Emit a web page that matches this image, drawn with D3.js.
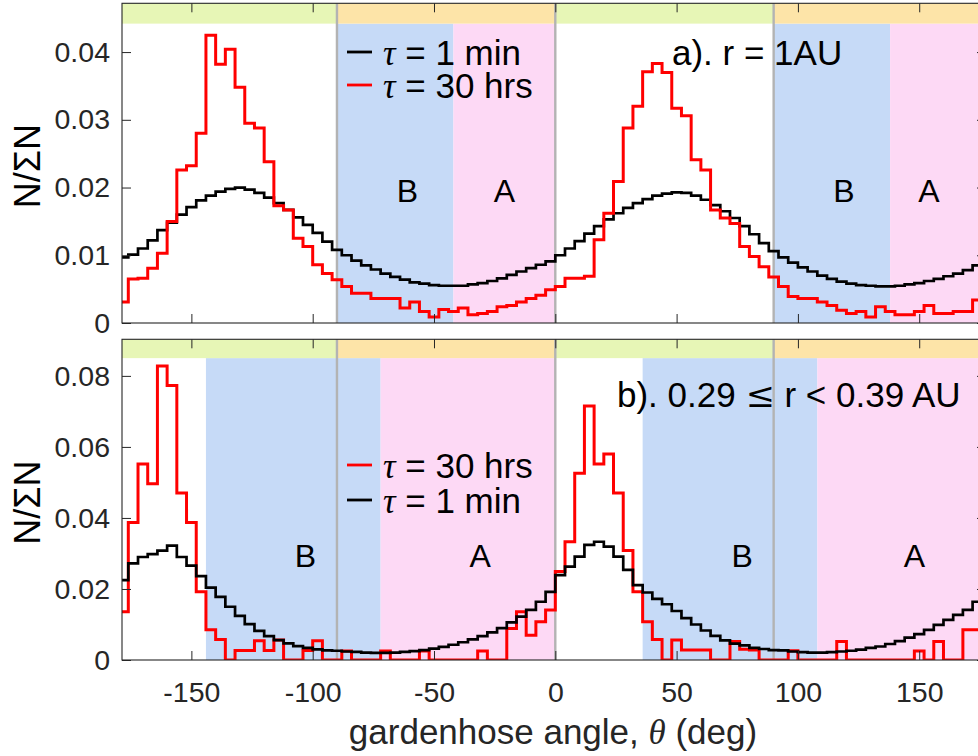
<!DOCTYPE html>
<html><head><meta charset="utf-8">
<script src="https://cdn.jsdelivr.net/npm/d3@7"></script>
<style>body{margin:0;background:#fff}svg{display:block}text{font-family:"Liberation Sans",Arial,Helvetica,sans-serif}</style>
</head><body>
<svg id="c" width="978" height="756"></svg>
<script>
// ---------- data ----------
const binStart = -180, binEnd = 180, binWidth = 4;
const xTicks = [-150, -100, -50, 0, 50, 100, 150];
const xTickLabels = ["-150", "-100", "-50", "0", "50", "100", "150"];
const yTicksA = [0, 0.01, 0.02, 0.03, 0.04];
const yTickLabelsA = ["0", "0.01", "0.02", "0.03", "0.04"];
const yTicksB = [0, 0.02, 0.04, 0.06, 0.08];
const yTickLabelsB = ["0", "0.02", "0.04", "0.06", "0.08"];

// panel a: r = 1 AU
const blackA = [
0.0097,0.0101,0.0110,0.0122,0.0137,0.0148,0.0160,0.0171,0.0181,0.0188,
0.0194,0.0198,0.0200,0.0197,0.0192,0.0185,0.0177,0.0167,0.0156,0.0145,
0.0133,0.0120,0.0108,0.0100,0.0092,0.0085,0.0079,0.0073,0.0068,0.0064,
0.0060,0.0058,0.0056,0.0055,0.0055,0.0055,0.0057,0.0059,0.0062,0.0066,
0.0071,0.0076,0.0081,0.0086,0.0091,0.0100,0.0110,0.0121,0.0132,0.0143,
0.0153,0.0162,0.0170,0.0177,0.0183,0.0188,0.0191,0.0193,0.0192,0.0188,
0.0182,0.0174,0.0165,0.0155,0.0143,0.0131,0.0118,0.0106,0.0097,0.0089,
0.0082,0.0076,0.0070,0.0065,0.0061,0.0058,0.0056,0.0055,0.0054,0.0054,
0.0055,0.0057,0.0059,0.0062,0.0065,0.0069,0.0073,0.0078,0.0085,0.0090];
const redA = [
0.0031,0.0065,0.0066,0.0081,0.0103,0.0150,0.0226,0.0232,0.0280,0.0425,
0.0382,0.0404,0.0348,0.0295,0.0288,0.0238,0.0173,0.0167,0.0125,0.0113,
0.0086,0.0073,0.0064,0.0054,0.0044,0.0044,0.0036,0.0036,0.0036,0.0022,
0.0031,0.0017,0.0009,0.0020,0.0017,0.0022,0.0012,0.0014,0.0017,0.0024,
0.0026,0.0031,0.0036,0.0041,0.0049,0.0054,0.0066,0.0066,0.0069,0.0123,
0.0162,0.0209,0.0288,0.0320,0.0371,0.0383,0.0370,0.0317,0.0306,0.0241,
0.0226,0.0167,0.0155,0.0147,0.0113,0.0098,0.0083,0.0068,0.0054,0.0039,
0.0036,0.0036,0.0031,0.0026,0.0019,0.0014,0.0017,0.0009,0.0024,0.0017,
0.0012,0.0012,0.0017,0.0026,0.0014,0.0014,0.0017,0.0017,0.0034,0.0034];

// panel b: 0.29 <= r < 0.39 AU
const redB = [
0.0136,0.0387,0.0552,0.0496,0.0828,0.0773,0.0470,0.0387,0.0192,0.0085,
0.0058,0,0.0027,0.0027,0.0054,0.0027,0.0056,0,0,0.0027,
0.0054,0,0,0.0025,0,0,0,0.0025,0,0,
0,0.0025,0,0,0,0,0,0.0025,0,0,
0.0089,0.0136,0.0070,0.0108,0.0141,0.0249,0.0333,0.0526,0.0715,0.0552,
0.0580,0.0470,0.0308,0.0192,0.0108,0.0058,0,0.0056,0.0028,0.0028,
0.0028,0,0,0.0052,0.0030,0.0028,0,0,0,0.0026,
0,0,0,0,0.0052,0,0,0,0,0,
0,0,0.0025,0,0.0052,0,0,0.0085,0.0085,0.0085];
const blackB = [
0.0225,0.0272,0.0290,0.0298,0.0308,0.0322,0.0290,0.0266,0.0236,0.0204,
0.0178,0.0150,0.0124,0.0101,0.0082,0.0067,0.0056,0.0047,0.0039,0.0034,
0.0030,0.0027,0.0026,0.0024,0.0023,0.0021,0.0020,0.0020,0.0021,0.0023,
0.0025,0.0028,0.0032,0.0037,0.0043,0.0050,0.0058,0.0067,0.0078,0.0090,
0.0106,0.0122,0.0141,0.0164,0.0192,0.0239,0.0263,0.0291,0.0324,0.0333,
0.0319,0.0291,0.0254,0.0211,0.0190,0.0172,0.0157,0.0138,0.0118,0.0100,
0.0083,0.0068,0.0055,0.0046,0.0041,0.0034,0.0031,0.0028,0.0027,0.0024,
0.0022,0.0021,0.0021,0.0022,0.0024,0.0026,0.0029,0.0034,0.0038,0.0045,
0.0053,0.0063,0.0073,0.0085,0.0099,0.0113,0.0127,0.0141,0.0164,0.0190];

// sector bands on top, and shaded regions
const sectorEdges = [-180, -90, 0, 90, 180];
const sectorKind = ["away", "toward", "away", "toward"];
const regionsA = [["B", -90, -42], ["A", -42, 0], ["B", 90, 138], ["A", 138, 180]];
const regionsB = [["B", -144, -72], ["A", -72, 0], ["B", 36, 108], ["A", 108, 180]];
const zoneLabelsA = [["B", -61], ["A", -21], ["B", 119], ["A", 154]];
const zoneLabelsB = [["B", -103], ["A", -31], ["B", 77], ["A", 148]];
const dividers = [-90, 0, 90];

// ---------- layout / style ----------
const C = {
  green: "#e7f6b6", orange: "#fde4a8", B: "#c6daf7", A: "#fdd9f5",
  gray: "#b3b3b3", axis: "#262626", red: "#ff0000", black: "#000000"
};
const svg = d3.select("#c");
const x = d3.scaleLinear().domain([-178.6, 180]).range([122, 992]);
const edges = d3.range(binStart, binEnd, binWidth);

const panels = [
  { id: "a", top: 3.3, bottom: 323, ymax: 0.0472, band: 0.0442, yTicks: yTicksA, yLab: yTickLabelsA,
    regions: regionsA, zl: zoneLabelsA, zlY: 0.0179,
    series: [{v: blackA, c: C.black, w: 2.7}, {v: redA, c: C.red, w: 3}], showX: false },
  { id: "b", top: 339.3, bottom: 660, ymax: 0.0903, band: 0.0850, yTicks: yTicksB, yLab: yTickLabelsB,
    regions: regionsB, zl: zoneLabelsB, zlY: 0.0262,
    series: [{v: redB, c: C.red, w: 3}, {v: blackB, c: C.black, w: 2.7}], showX: true }
];

panels.forEach(p => {
  const y = d3.scaleLinear().domain([0, p.ymax]).range([p.bottom, p.top]);
  const g = svg.append("g");
  const clipId = "clip" + p.id;
  svg.append("clipPath").attr("id", clipId).append("rect")
    .attr("x", x.range()[0]).attr("y", p.top)
    .attr("width", x.range()[1] - x.range()[0]).attr("height", p.bottom - p.top);
  const inner = g.append("g").attr("clip-path", `url(#${clipId})`);

  inner.selectAll("rect.reg").data(p.regions).join("rect").attr("class", "reg")
    .attr("x", d => x(d[1])).attr("width", d => x(d[2]) - x(d[1]))
    .attr("y", y(p.band)).attr("height", y(0) - y(p.band))
    .attr("fill", d => C[d[0]]);
  inner.selectAll("rect.band").data(sectorKind).join("rect").attr("class", "band")
    .attr("x", (d, i) => x(sectorEdges[i])).attr("width", (d, i) => x(sectorEdges[i + 1]) - x(sectorEdges[i]))
    .attr("y", y(p.ymax)).attr("height", y(p.band) - y(p.ymax))
    .attr("fill", d => d === "away" ? C.green : C.orange);
  inner.selectAll("line.div").data(dividers).join("line")
    .attr("x1", d => x(d)).attr("x2", d => x(d)).attr("y1", p.top).attr("y2", p.bottom)
    .attr("stroke", C.gray).attr("stroke-width", 2.4);

  const line = d3.line().curve(d3.curveStepAfter).x(d => x(d[0])).y(d => y(d[1]));
  p.series.forEach(s => {
    const pts = edges.map((e, i) => [e, s.v[i]]);
    pts.push([binEnd, s.v[s.v.length - 1]]);
    inner.append("path").attr("d", line(pts)).attr("fill", "none")
      .attr("stroke", s.c).attr("stroke-width", s.w).attr("stroke-linejoin", "miter");
  });

  const axL = g.append("g").attr("transform", `translate(${x.range()[0]},0)`)
    .call(d3.axisLeft(y).tickValues(p.yTicks).tickFormat((d, i) => p.yLab[i]).tickSizeInner(-9).tickSizeOuter(0).tickPadding(12));
  const axR = g.append("g").attr("transform", `translate(${x.range()[1]},0)`)
    .call(d3.axisRight(y).tickValues(p.yTicks).tickFormat("").tickSizeInner(-15).tickSizeOuter(0));
  const axT = g.append("g").attr("transform", `translate(0,${p.top})`)
    .call(d3.axisTop(x).tickValues(xTicks).tickFormat("").tickSizeInner(-9).tickSizeOuter(0));
  const axB = g.append("g").attr("transform", `translate(0,${p.bottom})`)
    .call(d3.axisBottom(x).tickValues(xTicks).tickFormat((d, i) => p.showX ? xTickLabels[i] : "").tickSizeInner(-9).tickSizeOuter(0).tickPadding(22));
  [axL, axR, axT, axB].forEach(a => {
    a.select(".domain").remove();
    a.selectAll(".tick line").attr("stroke", C.axis).attr("stroke-width", 1);
    a.selectAll(".tick text").attr("fill", C.axis).style("font-size", "28.5px").attr("font-family", null);
  });
  g.append("rect").attr("x", x.range()[0]).attr("y", p.top)
    .attr("width", x.range()[1] - x.range()[0]).attr("height", p.bottom - p.top)
    .attr("fill", "none").attr("stroke", C.axis).attr("stroke-width", 1.1);

  g.selectAll("text.zl").data(p.zl).join("text").attr("class", "zl")
    .attr("x", d => x(d[1])).attr("y", y(p.zlY)).attr("text-anchor", "middle")
    .style("font-size", "32px").attr("fill", "#000").text(d => d[0]);

  g.append("text").attr("transform", `translate(40,${(p.top + p.bottom) / 2 + 3}) rotate(-90)`)
    .attr("text-anchor", "middle").style("font-size", "36px").attr("fill", "#000").text("N/ΣN");
});

function legend(x0, yLine, yText, color, label) {
  svg.append("line").attr("x1", x0).attr("x2", x0 + 25).attr("y1", yLine).attr("y2", yLine)
    .attr("stroke", color).attr("stroke-width", 2.8);
  const t = svg.append("text").attr("x", x0 + 36).attr("y", yText).style("font-size", "35px").attr("fill", "#000");
  t.append("tspan").style("font-family", "'Liberation Serif','Times New Roman',serif").style("font-style", "italic").text("τ");
  t.append("tspan").text(" = " + label);
}
legend(347, 52, 65, C.black, "1 min");
legend(347, 85, 98, C.red, "30 hrs");
legend(347, 465, 478, C.red, "30 hrs");
legend(347, 500, 513, C.black, "1 min");

svg.append("text").attr("x", 672).attr("y", 65).style("font-size", "35px").attr("fill", "#000").text("a). r = 1AU");
const bt = svg.append("text").attr("x", 617).attr("y", 407).style("font-size", "35px").attr("fill", "#000");
bt.append("tspan").text("b). 0.29 ");
bt.append("tspan").style("font-family", "'DejaVu Serif',serif").text("≤");
bt.append("tspan").text(" r < 0.39 AU");

const xl = svg.append("text").attr("x", 553).attr("y", 744).attr("text-anchor", "middle").style("font-size", "35px").attr("fill", "#262626");
xl.append("tspan").text("gardenhose angle, ");
xl.append("tspan").style("font-family", "'Liberation Serif','Times New Roman',serif").style("font-style", "italic").text("θ");
xl.append("tspan").text(" (deg)");
</script>
</body></html>
